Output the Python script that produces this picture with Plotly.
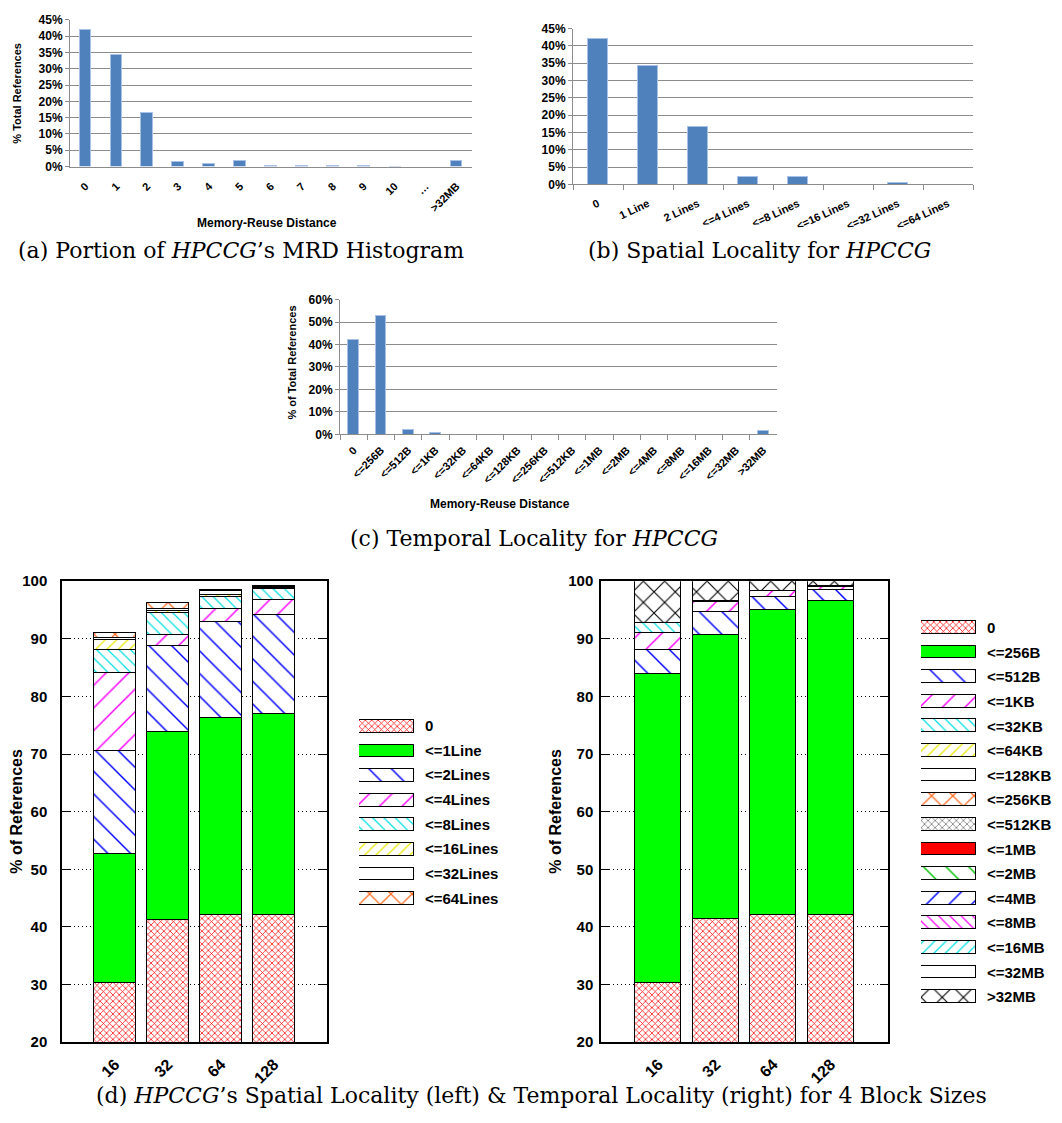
import plotly.graph_objects as go

# ---------------------------------------------------------------- data
mrd_labels = ["0", "1", "2", "3", "4", "5", "6", "7", "8", "9", "10", "…", ">32MB"]
mrd_pct = [42.0, 34.3, 16.6, 1.4, 0.9, 1.7, 0.3, 0.2, 0.2, 0.1, 0.05, 0.0, 1.8]

spatial_labels = ["0", "1 Line", "2 Lines", "<=4 Lines", "<=8 Lines",
                  "<=16 Lines", "<=32 Lines", "<=64 Lines"]
spatial_pct = [42.0, 34.2, 16.6, 2.3, 2.1, 0.0, 0.6, 0.0]

temporal_labels = ["0", "<=256B", "<=512B", "<=1KB", "<=32KB", "<=64KB", "<=128KB",
                   "<=256KB", "<=512KB", "<=1MB", "<=2MB", "<=4MB", "<=8MB",
                   "<=16MB", "<=32MB", ">32MB"]
temporal_pct = [42.0, 53.0, 2.2, 1.0, 0, 0, 0, 0, 0, 0, 0, 0, 0, 0, 0, 1.8]

block_sizes = ["16", "32", "64", "128"]

spatial_series = ["0", "<=1Line", "<=2Lines", "<=4Lines", "<=8Lines",
                  "<=16Lines", "<=32Lines", "<=64Lines"]
spatial_stack = [
    [30.2, 41.2, 42.0, 42.0],
    [22.4, 32.6, 34.2, 35.0],
    [17.9, 15.0, 16.7, 17.1],
    [13.6, 1.9, 2.3, 2.6],
    [4.0, 3.7, 2.1, 1.9],
    [1.7, 0.4, 0.3, 0.2],
    [0.3, 0.3, 0.6, 0.2],
    [0.9, 1.1, 0.2, 0.2],
]

temporal_series = ["0", "<=256B", "<=512B", "<=1KB", "<=32KB", "<=64KB", "<=128KB",
                   "<=256KB", "<=512KB", "<=1MB", "<=2MB", "<=4MB", "<=8MB",
                   "<=16MB", "<=32MB", ">32MB"]
temporal_stack = [
    [30.2, 41.3, 42.0, 42.0],
    [53.7, 49.4, 53.0, 54.5],
    [4.2, 4.0, 2.2, 1.9],
    [2.9, 1.7, 1.0, 0.5],
    [1.7, 0.1, 0.0, 0.2],
    [0.0, 0.1, 0.0, 0.0],
    [0.0, 0.0, 0.0, 0.0],
    [0.0, 0.0, 0.0, 0.0],
    [0.0, 0.0, 0.0, 0.0],
    [0.0, 0.0, 0.0, 0.0],
    [0.0, 0.0, 0.0, 0.0],
    [0.0, 0.0, 0.0, 0.0],
    [0.0, 0.0, 0.0, 0.0],
    [0.0, 0.0, 0.0, 0.0],
    [0.0, 0.0, 0.0, 0.0],
    [7.3, 3.4, 1.8, 0.9],
]

# ---------------------------------------------------------------- styling
W, H = 1062, 1123
SANS = "Liberation Sans, Arial, sans-serif"
SERIF = "DejaVu Serif, serif"
EXCEL_BLUE = "#4f81bd"
EXCEL_GRID = "#8c8c8c"


def dom_x(left, right):
    return [left / W, right / W]


def dom_y(top, bottom):
    return [1 - bottom / H, 1 - top / H]


def hatch(shape, fg, size, solidity):
    return dict(color="white",
                pattern=dict(shape=shape, fgcolor=fg, bgcolor="white",
                             size=size, solidity=solidity, fillmode="replace"),
                line=dict(color="black", width=1))


def solid(col):
    return dict(color=col, line=dict(color="black", width=1))


FILLS = {
    "red_fine": lambda: hatch("x", "#ff0000", 4.5, 0.3),
    "green": lambda: solid("#00ff00"),
    "blue_bs": lambda: hatch("\\", "#0000ff", 16, 0.09),
    "mag_fs": lambda: hatch("/", "#ff00ff", 16, 0.09),
    "cyan_bs": lambda: hatch("\\", "#00e0e0", 8, 0.15),
    "yellow_fs": lambda: hatch("/", "#e8e800", 8, 0.15),
    "white": lambda: solid("white"),
    "orange_x": lambda: hatch("x", "#ff6a20", 15, 0.16),
    "gray_fine": lambda: hatch("x", "#808080", 5, 0.3),
    "red": lambda: solid("#ff0000"),
    "green_bs": lambda: hatch("\\", "#00c000", 16, 0.09),
    "blue_fs": lambda: hatch("/", "#0000ff", 16, 0.09),
    "mag_bs": lambda: hatch("\\", "#ff00ff", 8, 0.15),
    "cyan_fs": lambda: hatch("/", "#00e0e0", 8, 0.15),
    "black_x": lambda: hatch("x", "#000000", 15, 0.14),
}

spatial_fill = ["red_fine", "green", "blue_bs", "mag_fs", "cyan_bs",
                "yellow_fs", "white", "orange_x"]
temporal_fill = ["red_fine", "green", "blue_bs", "mag_fs", "cyan_bs", "yellow_fs",
                 "white", "orange_x", "gray_fine", "red", "green_bs", "blue_fs",
                 "mag_bs", "cyan_fs", "white", "black_x"]


def nz(vals):
    return [v if v else None for v in vals]


fig = go.Figure()

excel_marker = dict(color=EXCEL_BLUE, line=dict(color="#a9c1e6", width=1))

# (a) MRD histogram
fig.add_trace(go.Bar(x=mrd_labels, y=nz(mrd_pct), width=0.38, marker=excel_marker,
                     xaxis="x", yaxis="y"))
# (b) spatial locality
fig.add_trace(go.Bar(x=spatial_labels, y=nz(spatial_pct), width=0.4, marker=excel_marker,
                     xaxis="x2", yaxis="y2"))
# (c) temporal locality
fig.add_trace(go.Bar(x=temporal_labels, y=nz(temporal_pct), width=0.4, marker=excel_marker,
                     xaxis="x3", yaxis="y3"))

# (d) stacked bars per block size
for name, vals, fill in zip(spatial_series, spatial_stack, spatial_fill):
    fig.add_trace(go.Bar(x=block_sizes, y=nz(vals), name=name, width=0.8,
                         marker=FILLS[fill](), xaxis="x4", yaxis="y4"))
for name, vals, fill in zip(temporal_series, temporal_stack, temporal_fill):
    fig.add_trace(go.Bar(x=block_sizes, y=nz(vals), name=name, width=0.8,
                         marker=FILLS[fill](), xaxis="x5", yaxis="y5"))

# key swatches drawn as unit-length horizontal bars
for name, fill in zip(spatial_series, spatial_fill):
    fig.add_trace(go.Bar(y=[name], x=[1], orientation="h", width=0.52,
                         marker=FILLS[fill](), xaxis="x6", yaxis="y6"))
for name, fill in zip(temporal_series, temporal_fill):
    fig.add_trace(go.Bar(y=[name], x=[1], orientation="h", width=0.52,
                         marker=FILLS[fill](), xaxis="x7", yaxis="y7"))

excel_tick = dict(family=SANS, size=12, color="black", weight="bold")
excel_x_tick = dict(family=SANS, size=11, color="black", weight="bold")


def excel_y(domain, anchor, rng, dtick):
    return dict(domain=domain, anchor=anchor, range=rng, dtick=dtick, ticksuffix="%",
                showgrid=True, gridcolor=EXCEL_GRID, gridwidth=1, zeroline=False,
                showline=True, linecolor=EXCEL_GRID, ticks="outside", ticklen=4,
                tickcolor=EXCEL_GRID, tickfont=excel_tick, fixedrange=True)


gp_tick = dict(family=SANS, size=15, color="black", weight="bold")


def gp_y(domain, anchor, standoff):
    return dict(domain=domain, anchor=anchor, range=[20, 100], dtick=10,
                showgrid=True, gridcolor="black", griddash="1px,3px", gridwidth=1,
                zeroline=False, showline=True, linecolor="black", linewidth=1.5,
                mirror="ticks", ticks="inside", ticklen=8, tickcolor="black",
                tickfont=gp_tick, ticklabelstandoff=standoff)


def gp_x(domain, anchor):
    return dict(domain=domain, anchor=anchor, type="category", range=[-1, 4],
                showline=True, linecolor="black", linewidth=1.5, mirror=True,
                ticks="", tickangle=-45, ticklabelstandoff=5,
                tickfont=dict(family=SANS, size=16, color="black", weight="bold"))


def key_y(domain, anchor, n):
    return dict(domain=domain, anchor=anchor, type="category", range=[n - 0.5, -0.5],
                side="right", showline=False, showgrid=False, zeroline=False, ticks="",
                tickfont=gp_tick, ticklabelstandoff=10)


def key_x(domain, anchor):
    return dict(domain=domain, anchor=anchor, range=[0, 1], visible=False)


fig.update_layout(
    width=W, height=H, margin=dict(l=0, r=0, t=0, b=0),
    paper_bgcolor="white", plot_bgcolor="white",
    barmode="stack", showlegend=False, bargap=0,
    xaxis=dict(domain=dom_x(70, 472), anchor="y", type="category",
               range=[-0.5, 12.5], showline=True, linecolor=EXCEL_GRID, ticks="",
               tickangle=-45, tickfont=excel_x_tick, ticklabelstandoff=8),
    yaxis=excel_y(dom_y(11, 160), "x", [0, 45], 5),
    xaxis2=dict(domain=dom_x(573, 973), anchor="y2", type="category",
                range=[-0.5, 7.5], showline=True, linecolor=EXCEL_GRID,
                ticks="outside", tickson="boundaries", ticklen=5, tickcolor=EXCEL_GRID,
                tickangle=-25, tickfont=excel_x_tick, ticklabelstandoff=8),
    yaxis2=excel_y(dom_y(20, 178), "x2", [0, 45], 5),
    xaxis3=dict(domain=dom_x(340, 777), anchor="y3", type="category",
                range=[-0.5, 15.5], showline=True, linecolor=EXCEL_GRID,
                ticks="outside", tickson="boundaries", ticklen=5, tickcolor=EXCEL_GRID,
                tickangle=-45, tickfont=excel_x_tick, ticklabelstandoff=4),
    yaxis3=excel_y(dom_y(295, 432), "x3", [0, 60], 10),
    xaxis4=gp_x(dom_x(62, 327), "y4"),
    yaxis4=gp_y(dom_y(581, 1049), "x4", 10),
    xaxis5=gp_x(dom_x(601, 888), "y5"),
    yaxis5=gp_y(dom_y(581, 1049), "x5", 3),
    xaxis6=key_x(dom_x(359, 414), "y6"),
    yaxis6=key_y(dom_y(715.5, 915.5), "x6", len(spatial_series)),
    xaxis7=key_x(dom_x(921, 976), "y7"),
    yaxis7=key_y(dom_y(615.8, 1015.8), "x7", len(temporal_series)),
)


def note(text, x, y, size, family=SANS, bold=True, angle=0):
    fig.add_annotation(text=text, x=x / W, y=1 - y / H, xref="paper", yref="paper",
                       xanchor="center", yanchor="middle", showarrow=False,
                       textangle=angle,
                       font=dict(family=family, size=size, color="black",
                                 weight="bold" if bold else "normal"))


# axis titles
note("% Total References", 17, 86, 11, angle=-90)
note("Memory-Reuse Distance", 267, 217, 12)
note("% of Total References", 292, 359, 11, angle=-90)
note("Memory-Reuse Distance", 500, 503, 12)
note("% of References", 17, 815, 16, angle=-90)
note("% of References", 556, 815, 16, angle=-90)

# sub-figure captions
note("(a) Portion of <i>HPCCG</i>’s MRD Histogram", 241, 245, 22, SERIF, False)
note("(b) Spatial Locality for <i>HPCCG</i>", 759, 245, 22, SERIF, False)
note("(c) Temporal Locality for <i>HPCCG</i>", 534, 538, 22, SERIF, False)
note("(d) <i>HPCCG</i>’s Spatial Locality (left) & Temporal Locality (right) "
     "for 4 Block Sizes", 541, 1103, 22, SERIF, False)

fig.write_html("out.html")
